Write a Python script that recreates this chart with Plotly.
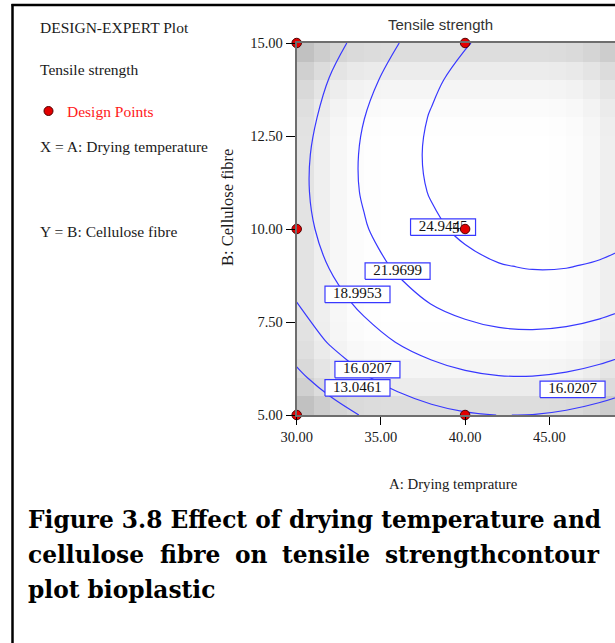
import plotly.graph_objects as go

W, H = 615, 643

# Response surface of tensile strength, sampled on a regular grid
A_GRID = [30, 32, 34, 36, 38, 40, 42, 44, 46, 48, 50]          # A: drying temperature
B_GRID = [5, 6, 7, 8, 9, 10, 11, 12, 13, 14, 15]                # B: cellulose fibre
TENSILE = [
    [10.10, 11.83, 13.27, 14.40, 15.25, 15.79, 16.04, 15.99, 15.64, 15.00, 14.06],
    [12.47, 14.28, 15.79, 17.00, 17.91, 18.53, 18.85, 18.88, 18.61, 18.04, 17.17],
    [14.43, 16.31, 17.89, 19.18, 20.17, 20.86, 21.26, 21.36, 21.16, 20.67, 19.88],
    [15.98, 17.94, 19.59, 20.95, 22.02, 22.79, 23.26, 23.43, 23.31, 22.89, 22.17],
    [17.12, 19.15, 20.88, 22.32, 23.46, 24.30, 24.84, 25.09, 25.04, 24.70, 24.06],
    [17.85, 19.96, 21.76, 23.27, 24.49, 25.40, 26.02, 26.35, 26.37, 26.10, 25.53],
    [18.17, 20.35, 22.23, 23.82, 25.11, 26.10, 26.79, 27.19, 27.29, 27.09, 26.60],
    [18.08, 20.34, 22.29, 23.95, 25.32, 26.38, 27.15, 27.62, 27.80, 27.67, 27.26],
    [17.59, 19.91, 21.94, 23.68, 25.11, 26.25, 27.10, 27.64, 27.89, 27.85, 27.50],
    [17.05, 19.15, 21.19, 22.99, 24.51, 25.72, 26.64, 27.26, 27.58, 27.61, 27.34],
    [16.35, 18.02, 20.02, 21.90, 23.49, 24.77, 25.77, 26.46, 26.86, 26.96, 26.77],
]

# Contour levels and where their labels sit
LEVELS = [13.0461, 16.0207, 18.9953, 21.9699, 24.9445]
LABEL_LEVEL = [24.9445, 21.9699, 18.9953, 16.0207, 13.0461, 16.0207]
LABEL_A = [38.69, 35.99, 33.61, 34.20, 33.61, 46.38]
LABEL_B = [10.05, 8.87, 8.24, 6.22, 5.73, 5.69]

# Design points (centre point replicated 5 times)
DP_A = [30, 40, 50, 30, 40, 50, 30, 40, 50]
DP_B = [15, 15, 15, 10, 10, 10, 5, 5, 5]
CENTER_REPS = 5

# Grey shading of the design space (darkness per column / row of cells)
SHADE_A = [30.5 + i for i in range(20)]
SHADE_B = [5.25 + 0.5 * j for j in range(20)]
SHADE_COL = [28, 16, 8, 3, 1, 0, 0, 0, 0, 0, 0, 0, 0, 0, 0, 1, 3, 8, 16, 28]
SHADE_ROW = [34, 19, 10, 4, 1, 0, 0, 0, 0, 0, 0, 0, 0, 0, 0, 1, 4, 10, 19, 34]

X_TICKS = [30, 35, 40, 45]
Y_TICKS = [5, 7.5, 10, 12.5, 15]

SERIF = "Liberation Serif, Times New Roman, serif"
BLUE = "#3838ff"


def px(x):
    return x / W


def py(y):
    return 1 - y / H


fig = go.Figure()

shade = [[255 - r - c for c in SHADE_COL] for r in SHADE_ROW]
fig.add_trace(go.Heatmap(
    x=SHADE_A, y=SHADE_B, z=shade, zmin=0, zmax=255,
    colorscale=[[0, "rgb(0,0,0)"], [1, "rgb(255,255,255)"]],
    showscale=False, hoverinfo="skip",
))

step = LEVELS[1] - LEVELS[0]
fig.add_trace(go.Contour(
    x=A_GRID, y=B_GRID, z=TENSILE,
    contours=dict(coloring="lines", start=LEVELS[0], end=LEVELS[-1] + step * 1e-3,
                  size=step, showlabels=False),
    colorscale=[[0, BLUE], [1, BLUE]],
    line=dict(width=1.2, smoothing=1.0),
    showscale=False, hoverinfo="skip",
))

# Label boxes (white with blue frame) drawn as filled polygons
box_w, box_h = 65 / 16.84, 16.5 / 37.2
bx, by = [], []
for a, b in zip(LABEL_A, LABEL_B):
    bx += [a - box_w / 2, a + box_w / 2, a + box_w / 2, a - box_w / 2, a - box_w / 2, None]
    by += [b - box_h / 2, b - box_h / 2, b + box_h / 2, b + box_h / 2, b - box_h / 2, None]
fig.add_trace(go.Scatter(
    x=bx, y=by, mode="lines", fill="toself", fillcolor="white",
    line=dict(color=BLUE, width=1.2), hoverinfo="skip", showlegend=False,
))
fig.add_trace(go.Scatter(
    x=LABEL_A, y=LABEL_B, mode="text",
    text=[f"{v:.4f}" for v in LABEL_LEVEL],
    textfont=dict(family=SERIF, size=15, color="#111"),
    hoverinfo="skip", showlegend=False,
))
fig.add_trace(go.Scatter(
    x=[39.45], y=[10.0], mode="text", text=[str(CENTER_REPS)],
    textfont=dict(family=SERIF, size=15, color="#111"),
    hoverinfo="skip", showlegend=False,
))

fig.add_trace(go.Scatter(
    x=DP_A, y=DP_B, mode="markers", cliponaxis=False,
    marker=dict(color="#e30000", size=9.5, line=dict(color="#500000", width=1)),
    hoverinfo="skip", showlegend=False,
))

axis_font = dict(family=SERIF, size=14.5, color="#1a1a1a")
fig.update_layout(
    width=W, height=H, margin=dict(l=0, r=0, t=0, b=0, pad=0, autoexpand=False),
    paper_bgcolor="white", plot_bgcolor="white", showlegend=False,
    xaxis=dict(
        domain=[px(296.7), 1], range=[30, 48.9],
        tickvals=X_TICKS, ticktext=[f"{v:.2f}" for v in X_TICKS],
        ticks="outside", ticklen=8, tickcolor="#000", tickwidth=1,
        tickfont=axis_font, showgrid=False, zeroline=False, automargin=False,
        showline=True, linecolor="#6e6e6e", linewidth=2, mirror=True,
    ),
    yaxis=dict(
        domain=[py(415), py(43)], range=[5, 15],
        tickvals=Y_TICKS, ticktext=[f"{v:.2f}" for v in Y_TICKS],
        ticks="outside", ticklen=9, tickcolor="#000", tickwidth=1,
        tickfont=axis_font, showgrid=False, zeroline=False, automargin=False,
        showline=True, linecolor="#6e6e6e", linewidth=2,
    ),
)

ann = []


def text(x, y, s, size=15.5, color="#1a1a1a", family=SERIF, anchor="left", **kw):
    ann.append(dict(x=px(x), y=py(y), xref="paper", yref="paper", text=s,
                    showarrow=False, xanchor=anchor, yanchor="middle",
                    font=dict(family=family, size=size, color=color), **kw))


# Side panel
text(38, 28, "DESIGN-EXPERT Plot")
text(38, 70, "Tensile strength")
text(65, 111, "Design Points", color="#ff1a1a")
text(38, 147, "X = A: Drying temperature")
text(38, 231, "Y = B: Cellulose fibre")

# Titles
text(440, 24, "Tensile strength", size=15, color="#333",
     family="Liberation Sans, Arial, sans-serif", anchor="center")
text(227, 207, "B: Cellulose fibre", size=16.5, anchor="center", textangle=-90)
text(454, 484, "A: Drying temprature", size=14.8, anchor="center")

# Caption, justified across the page width
CAP = "DejaVu Serif, serif"
CS = 23.3
text(26, 519, "<b>Figure 3.8 Effect of drying temperature and</b>", size=CS, family=CAP, color="#000")
line2 = [("cellulose", 26, "left"), ("fibre", 190, "center"), ("on", 251, "center"),
         ("tensile", 326, "center"), ("strengthcontour", 602, "right")]
for w, x, a in line2:
    text(x, 554, f"<b>{w}</b>", size=CS, family=CAP, color="#000", anchor=a)
text(26, 589, "<b>plot bioplastic</b>", size=CS, family=CAP, color="#000")

fig.update_layout(annotations=ann)

# Legend dot and page frame
shapes = [
    dict(type="circle", xref="paper", yref="paper",
         x0=px(44), x1=px(53), y0=py(115.5), y1=py(106.5),
         fillcolor="#e30000", line=dict(color="#500000", width=1)),
    dict(type="line", xref="paper", yref="paper", x0=px(12.5), x1=px(12.5),
         y0=py(4), y1=0, line=dict(color="#000", width=2.5)),
    dict(type="line", xref="paper", yref="paper", x0=px(11.5), x1=1,
         y0=py(5), y1=py(5), line=dict(color="#000", width=2.5)),
]
fig.update_layout(shapes=shapes)

fig.write_html("out.html")
